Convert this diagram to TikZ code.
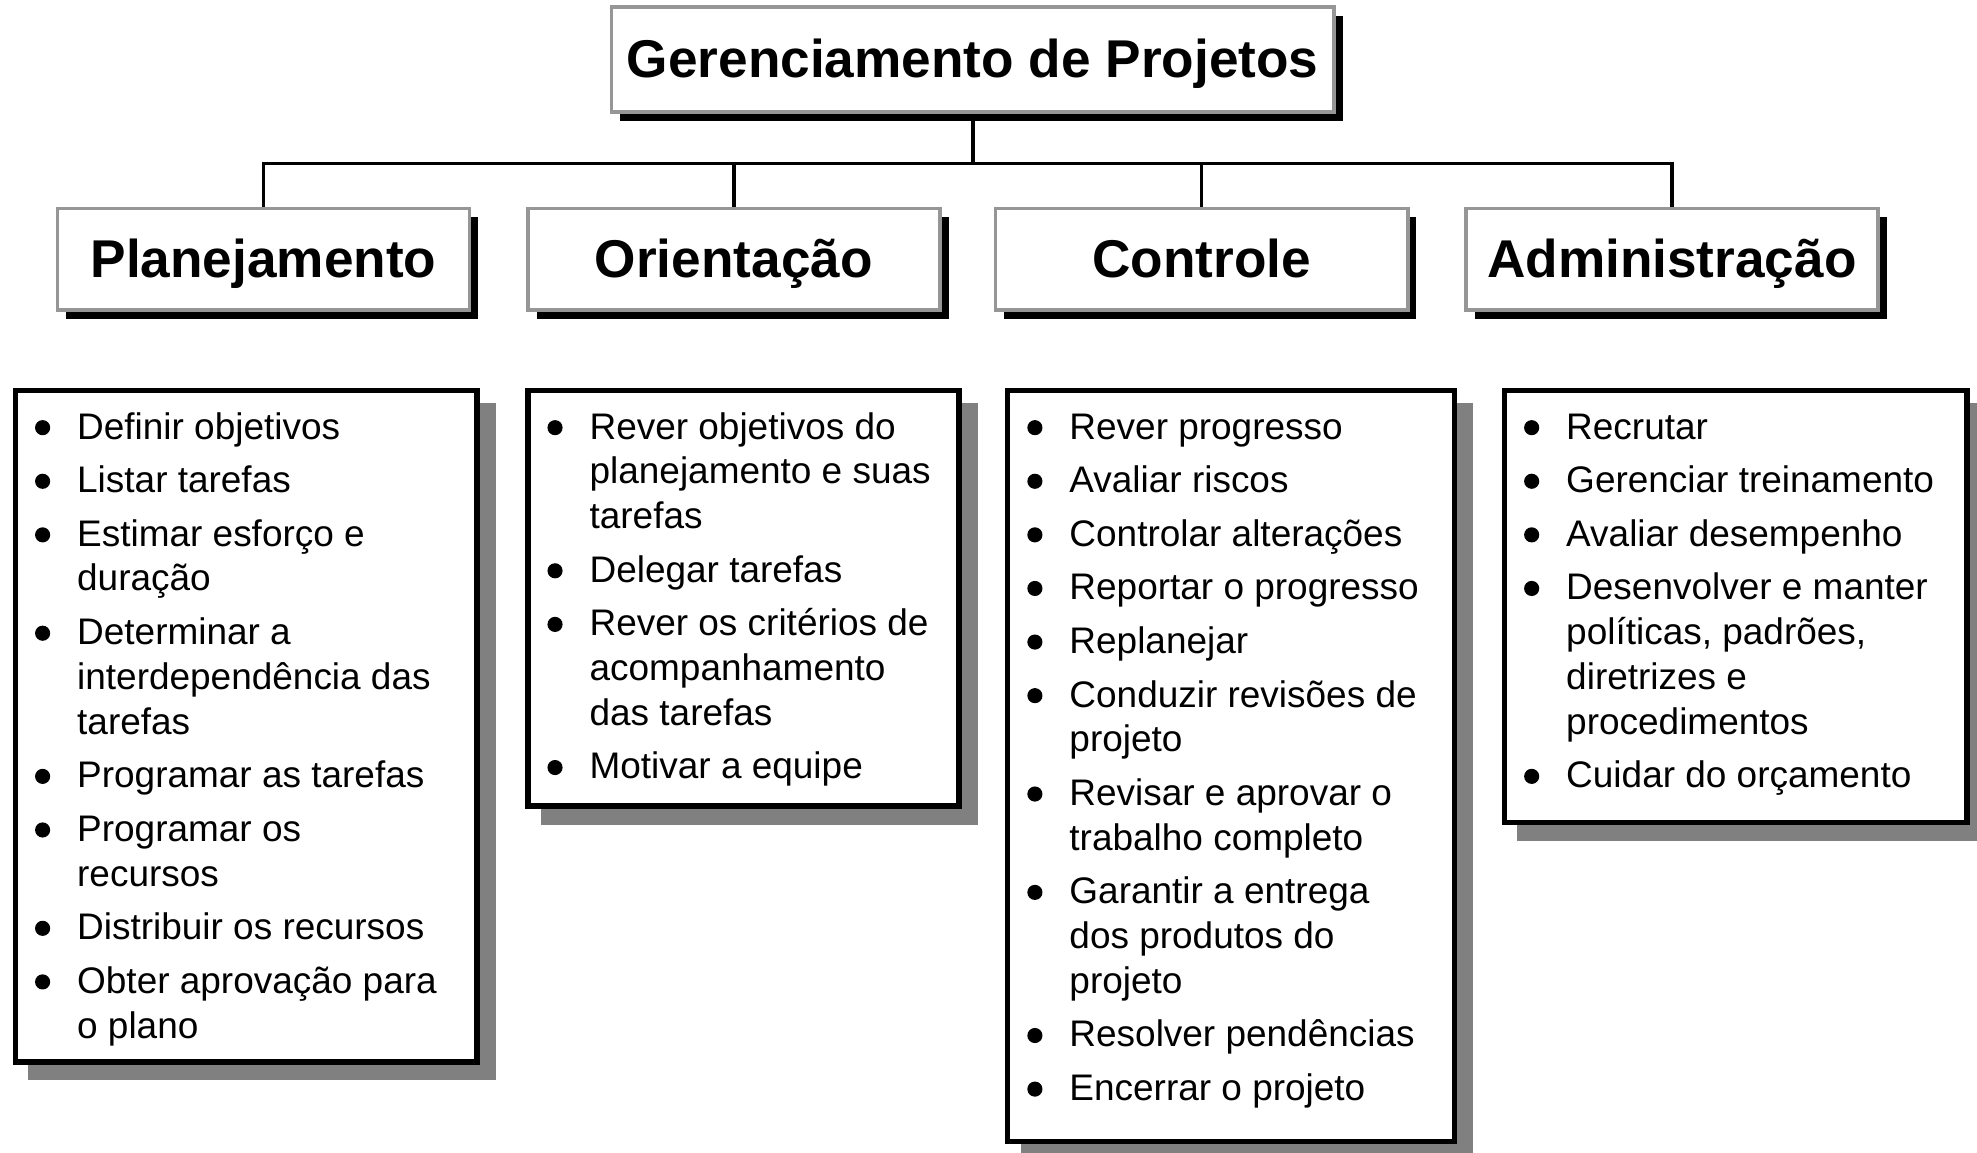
\documentclass[tikz,border=0pt]{standalone}
\usepackage{fontspec}
\setmainfont{Liberation Sans}
\usepackage{pict2e}
\usetikzlibrary{shadows}

\definecolor{bordergray}{RGB}{150,150,150}
\definecolor{shadegray}{RGB}{128,128,128}

\newcommand{\headfont}{\fontsize{30}{36}\selectfont\bfseries}
\newcommand{\listfont}{\fontsize{20.85}{25.25}\selectfont\rightskip=0pt plus 1fil\leftskip=3.9mm\parskip=1.75mm}
\newcommand{\itm}{\par\hangindent=8.35mm\hangafter=1\noindent\strut\makebox[8.35mm][l]{\setlength{\unitlength}{0.25mm}\begin{picture}(0,0)\put(6,9){\circle*{12}}\end{picture}}}

\begin{document}
\begin{tikzpicture}[x=0.025cm,y=-0.025cm]
        \tikzstyle{headbox}=[draw=bordergray,line width=0.75mm,fill=white,font=\headfont,text height=24pt,text depth=3pt,drop shadow={shadow xshift=1.75mm,shadow yshift=-1.75mm,fill=black,opacity=1}]
        \tikzstyle{listbox}=[draw=black,line width=1.1mm,fill=white,inner sep=0pt,anchor=north west,drop shadow={shadow xshift=3.1mm,shadow yshift=-3.1mm,fill=shadegray,draw=shadegray,opacity=1}]
        \tikzstyle{link}=[line width=0.7mm]
        \useasboundingbox (0,0) rectangle (1568,914);

        %%% Top
        \node[headbox,minimum width=143.25mm,minimum height=20.8mm] (title) at (771.5,47) {Gerenciamento de Projetos};

        %%% Areas
        \node[headbox,minimum width=81.7mm,minimum height=20.05mm] (plan) at (209,205.5) {Planejamento};
        \node[headbox,minimum width=81.7mm,minimum height=20.05mm] (orient) at (582,205.5) {Orientação};
        \node[headbox,minimum width=81.7mm,minimum height=20.05mm] (ctrl) at (953,205.5) {Controle};
        \node[headbox,minimum width=81.7mm,minimum height=20.05mm] (admin) at (1326,205.5) {Administração};

        \coordinate (bus) at (771.5,129.5);
        \draw[link] (title.south) -- (bus);
        \foreach \n in {plan,orient,ctrl,admin}
            \draw[link] (bus) -| (\n.north);

        %%% Lists
        \node[listbox] (planlist) at (10,307.5) {\parbox[t][133.1mm][t]{91.55mm}{\listfont\vspace*{1.66mm}%
            \itm Definir objetivos
            \itm Listar tarefas
            \itm Estimar esforço e\\duração
            \itm Determinar a\\interdependência das\\tarefas
            \itm Programar as tarefas
            \itm Programar os\\recursos
            \itm Distribuir os recursos
            \itm Obter aprovação para\\o plano}};
        \node[listbox] (orientlist) at (416.4,307.5) {\parbox[t][82.4mm][t]{85.5mm}{\listfont\vspace*{1.66mm}%
            \itm Rever objetivos do\\planejamento e suas\\tarefas
            \itm Delegar tarefas
            \itm Rever os critérios de\\acompanhamento\\das tarefas
            \itm Motivar a equipe}};
        \node[listbox] (ctrllist) at (797,307.5) {\parbox[t][148.9mm][t]{88.6mm}{\listfont\vspace*{1.66mm}%
            \itm Rever progresso
            \itm Avaliar riscos
            \itm Controlar alterações
            \itm Reportar o progresso
            \itm Replanejar
            \itm Conduzir revisões de\\projeto
            \itm Revisar e aprovar o\\trabalho completo
            \itm Garantir a entrega\\dos produtos do\\projeto
            \itm Resolver pendências
            \itm Encerrar o projeto}};
        \node[listbox] (adminlist) at (1191,307.5) {\parbox[t][85.6mm][t]{91.7mm}{\listfont\vspace*{1.66mm}%
            \itm Recrutar
            \itm Gerenciar treinamento
            \itm Avaliar desempenho
            \itm Desenvolver e manter\\políticas, padrões,\\diretrizes e\\procedimentos
            \itm Cuidar do orçamento}};
\end{tikzpicture}
\end{document}
